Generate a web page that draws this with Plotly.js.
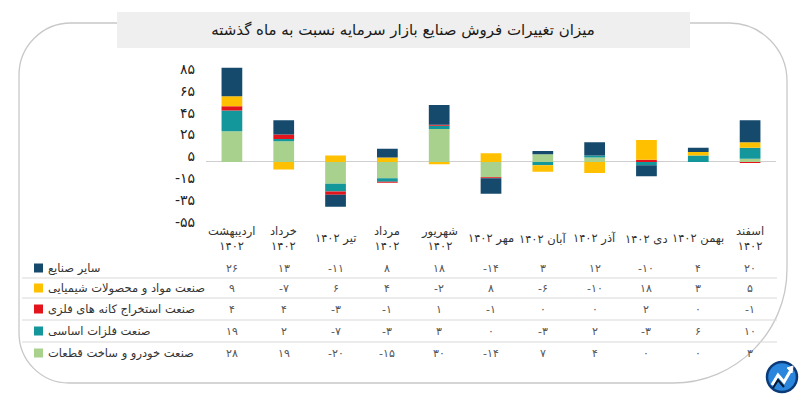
<!DOCTYPE html>
<html><head><meta charset="utf-8">
<script src="https://cdn.plot.ly/plotly-3.0.1.min.js"></script>
<style>html,body{margin:0;padding:0;background:#fff}#chart{width:810px;height:401px}</style>
</head><body><div id="chart"></div>
<script>
// ---- data ----
const months = ['اردیبهشت','خرداد','تیر','مرداد','شهریور','مهر','آبان','آذر','دی','بهمن','اسفند'];
const monthLabels = ['اردیبهشت<br>۱۴۰۲','خرداد<br>۱۴۰۲','تیر ۱۴۰۲','مرداد<br>۱۴۰۲','شهریور<br>۱۴۰۲','مهر ۱۴۰۲','آبان ۱۴۰۲','آذر ۱۴۰۲','دی ۱۴۰۲','بهمن ۱۴۰۲','اسفند<br>۱۴۰۲'];
const nameOther = 'سایر صنایع';
const nameChemical = 'صنعت مواد و محصولات شیمیایی';
const nameMining = 'صنعت استخراج کانه های فلزی';
const nameMetals = 'صنعت فلزات اساسی';
const nameAuto = 'صنعت خودرو و ساخت قطعات';
const other = [26,13,-11,8,18,-14,3,12,-10,4,20];
const chemical = [9,-7,6,4,-2,8,-6,-10,18,3,5];
const mining = [4,4,-3,-1,1,-1,0,0,2,0,-1];
const metals = [19,2,-7,-3,3,0,-3,2,-3,6,10];
const auto = [28,19,-20,-15,30,-14,7,4,0,0,3];
const yTickVals = [85,65,45,25,5,-15,-35,-55];
const yTickText = ['۸۵','۶۵','۴۵','۲۵','۵','-۱۵','-۳۵','-۵۵'];
const titleText = 'میزان تغییرات فروش صنایع بازار سرمایه نسبت به ماه گذشته';

// ---- styles ----
const W = 810, H = 401;
const FONT = 'DejaVu Sans, Noto Sans, sans-serif';
const colors = {other:'#164a6c', chemical:'#ffc000', mining:'#e3141c', metals:'#13979b', auto:'#a9d18e'};
const px = x => x / W;
const py = y => 1 - y / H;
const fa = n => String(n).replace(/\d/g, d => '۰۱۲۳۴۵۶۷۸۹'[d]);

// stacking order bottom -> top
const stack = [
  {name: nameAuto, y: auto, c: colors.auto},
  {name: nameMetals, y: metals, c: colors.metals},
  {name: nameMining, y: mining, c: colors.mining},
  {name: nameChemical, y: chemical, c: colors.chemical},
  {name: nameOther, y: other, c: colors.other}
];
const traces = stack.map(s => ({
  type: 'bar', x: months, y: s.y, name: s.name,
  marker: {color: s.c, line: {width: 0}}, hoverinfo: 'skip'
}));

// table rows top -> bottom
const rows = [
  {name: nameOther, y: other, c: colors.other, py: 268},
  {name: nameChemical, y: chemical, c: colors.chemical, py: 288},
  {name: nameMining, y: mining, c: colors.mining, py: 309},
  {name: nameMetals, y: metals, c: colors.metals, py: 331},
  {name: nameAuto, y: auto, c: colors.auto, py: 353}
];
const rowLines = [278, 298, 320, 342];

const annotations = [];
const shapes = [];

// frame with rounded corners
function framePath(l, t, r, b, rtl, rtr, rbr, rbl) {
  const k = 0.5523;
  const P = (x, y) => px(x).toFixed(5) + ',' + py(y).toFixed(5);
  return 'M' + P(l + rtl, t) + ' L' + P(r - rtr, t) +
    ' C' + P(r - rtr + k*rtr, t) + ' ' + P(r, t + rtr - k*rtr) + ' ' + P(r, t + rtr) +
    ' L' + P(r, b - rbr) +
    ' C' + P(r, b - rbr + k*rbr) + ' ' + P(r - rbr + k*rbr, b) + ' ' + P(r - rbr, b) +
    ' L' + P(l + rbl, b) +
    ' C' + P(l + rbl - k*rbl, b) + ' ' + P(l, b - rbl + k*rbl) + ' ' + P(l, b - rbl) +
    ' L' + P(l, t + rtl) +
    ' C' + P(l, t + rtl - k*rtl) + ' ' + P(l + rtl - k*rtl, t) + ' ' + P(l + rtl, t) + ' Z';
}
shapes.push({type: 'path', xref: 'paper', yref: 'paper', layer: 'below',
  path: framePath(19, 23, 787, 383, 52, 58, 114, 50),
  line: {color: '#c8c8c8', width: 1.3}, fillcolor: 'rgba(0,0,0,0)'});
// title box
shapes.push({type: 'rect', xref: 'paper', yref: 'paper', layer: 'below',
  x0: px(117), x1: px(690), y0: py(48), y1: py(12),
  line: {width: 0}, fillcolor: '#efefef'});

// table lines
rowLines.forEach(y => shapes.push({type: 'line', xref: 'paper', yref: 'paper',
  x0: px(22), x1: px(777), y0: py(y), y1: py(y), line: {color: '#d9d9d9', width: 1}}));

// table rows
rows.forEach(r => {
  shapes.push({type: 'rect', xref: 'paper', yref: 'paper',
    x0: px(34), x1: px(43), y0: py(r.py + 4.5), y1: py(r.py - 4.5),
    line: {width: 0}, fillcolor: r.c});
  annotations.push({xref: 'paper', yref: 'paper', x: px(46), y: py(r.py),
    xanchor: 'left', yanchor: 'middle', showarrow: false, text: r.name,
    font: {family: FONT, size: 11.5, color: '#333'}});
  r.y.forEach((v, i) => annotations.push({xref: 'x', yref: 'paper', x: months[i], y: py(r.py),
    xanchor: 'center', yanchor: 'middle', showarrow: false, text: fa(v),
    font: {family: FONT, size: 11, color: '#555'}}));
});

// month labels
monthLabels.forEach((t, i) => annotations.push({xref: 'x', yref: 'paper', x: months[i], y: py(239),
  xanchor: 'center', yanchor: 'middle', showarrow: false, text: t,
  font: {family: FONT, size: 11.5, color: '#333'}}));

// logo
shapes.push({type: 'circle', xref: 'paper', yref: 'paper',
  x0: px(767), x1: px(797), y0: py(392), y1: py(362),
  line: {color: '#0b3a78', width: 2.5}, fillcolor: '#2a86dc'});
shapes.push({type: 'path', xref: 'paper', yref: 'paper',
  path: 'M' + px(772) + ',' + py(385) + ' L' + px(778) + ',' + py(375) + ' L' + px(784) + ',' + py(382) + ' L' + px(791) + ',' + py(370),
  line: {color: '#ffffff', width: 3}});
shapes.push({type: 'path', xref: 'paper', yref: 'paper',
  path: 'M' + px(793) + ',' + py(366) + ' L' + px(787) + ',' + py(368) + ' L' + px(792) + ',' + py(373) + ' Z',
  line: {color: '#ffffff', width: 1}, fillcolor: '#ffffff'});
shapes.push({type: 'path', xref: 'paper', yref: 'paper',
  path: 'M' + px(773) + ',' + py(388) + ' L' + px(778) + ',' + py(380) + ' L' + px(784) + ',' + py(387),
  line: {color: '#0a1a30', width: 2}});

const layout = {
  width: W, height: H,
  margin: {l: 0, r: 0, t: 0, b: 0},
  paper_bgcolor: '#ffffff', plot_bgcolor: 'rgba(0,0,0,0)',
  showlegend: false,
  barmode: 'relative', bargap: 0.6,
  title: {text: titleText, x: px(403), xanchor: 'center', y: py(30), yanchor: 'middle',
    font: {family: FONT, size: 15, color: '#1a1a1a', weight: 'normal'}},
  xaxis: {type: 'category', domain: [px(206), px(776)], range: [-0.5, 10.5],
    showticklabels: false, showgrid: false, zeroline: false, showline: false, ticks: '', fixedrange: true},
  yaxis: {domain: [py(227.6), py(58)], range: [-60, 95],
    tickvals: yTickVals, ticktext: yTickText, ticks: '', ticklabelstandoff: 10,
    tickfont: {family: FONT, size: 14, color: '#222'},
    showgrid: false, zeroline: true, zerolinecolor: '#cfcfcf', zerolinewidth: 1, showline: false, fixedrange: true},
  shapes: shapes,
  annotations: annotations
};

Plotly.newPlot('chart', traces, layout, {displayModeBar: false, staticPlot: true});
</script>
</body></html>
